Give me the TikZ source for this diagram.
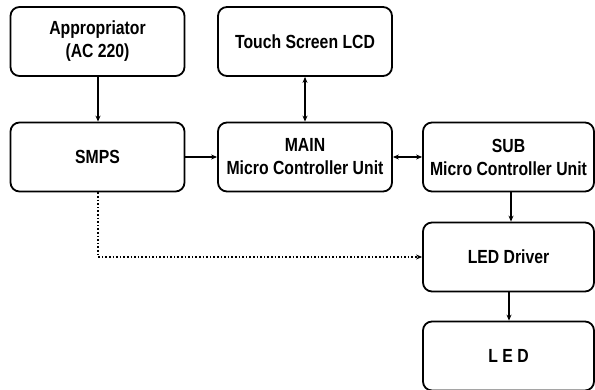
\documentclass[tikz,border=0pt]{standalone}
\usepackage{fontspec}
\newfontfamily\lab[FakeStretch=0.83,BoldFeatures={FakeStretch=0.83}]{Liberation Sans}
\usetikzlibrary{arrows.meta}
\begin{document}
\begin{tikzpicture}[x=1pt,y=-1pt,
  blk/.style={draw=black,line width=1.8pt,rounded corners=9pt,minimum width=174pt,minimum height=69pt,
    align=center,font=\lab\bfseries\fontsize{19}{23}\selectfont,inner sep=0pt},
  conn/.style={line width=1.6pt,-{Stealth[length=6pt,width=5pt]}},
  bconn/.style={line width=1.6pt,{Stealth[length=6pt,width=5pt]}-{Stealth[length=6pt,width=5pt]}},
  dconn/.style={line width=1.6pt,dotted,-{Stealth[length=6pt,width=5pt]}}]
\useasboundingbox (0,0) rectangle (595,390);
\node[blk] (app) at (97.5,41.5) {Appropriator\\(AC 220)};
\node[blk] (lcd) at (305,41.5) {Touch Screen LCD};
\node[blk] (smps) at (97.5,157) {SMPS};
\node[blk] (main) at (305,157) {MAIN\\Micro Controller Unit};
\node[blk,minimum width=171pt] (sub) at (508.5,157) {SUB\\Micro Controller Unit};
\node[blk,minimum width=171pt] (drv) at (508.5,257) {LED Driver};
\node[blk,minimum width=171pt] (led) at (508.5,356) {L E D};
\draw[conn] (app.south -| 98,0) -- (smps.north -| 98,0);
\draw[bconn] (lcd) -- (main);
\draw[conn] (smps) -- (main);
\draw[bconn] (main) -- (sub);
\draw[conn] (sub.south -| 511,0) -- (drv.north -| 511,0);
\draw[conn] (drv.south -| 509,0) -- (led.north -| 509,0);
\draw[dconn] (smps.south -| 98,0) |- (drv.west);
\end{tikzpicture}
\end{document}
